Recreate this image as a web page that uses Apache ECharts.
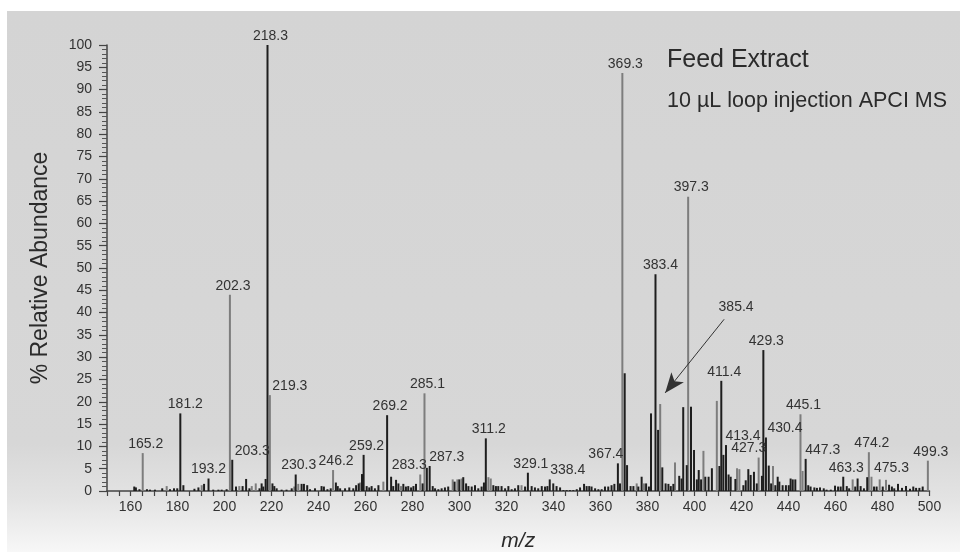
<!DOCTYPE html>
<html>
<head>
<meta charset="utf-8">
<script src="https://cdn.jsdelivr.net/npm/echarts@6/dist/echarts.min.js"></script>
<style>
html,body{margin:0;padding:0;background:#fff;}
#chart{width:960px;height:552px;}
</style>
</head>
<body>
<div id="chart"></div>
<script>
// ---- data (m/z, % relative abundance) ----
const xTickLabels = [160,180,200,220,240,260,280,300,320,340,360,380,400,420,440,460,480,500];

const darkMz = [161.6,162.3,163.8,167.0,168.3,170.4,173.5,176.8,178.5,179.9,181.2,182.5,187.2,188.9,191.3,193.2,195.2,197.4,198.8,200.9,
203.3,204.9,207.7,209.2,210.6,214.9,215.8,216.5,217.5,218.3,220.4,221.2,222.2,224.3,226.4,228.6,230.3,232.8,233.8,235.2,
236.4,238.5,241.3,242.3,243.8,245.2,247.4,248.2,249.2,251.3,253.1,254.8,256.0,257.1,258.5,259.2,260.5,261.6,262.6,264.0,
265.5,269.2,270.9,271.8,273.0,274.0,276.1,277.2,278.2,279.4,280.4,281.5,284.3,286.1,287.3,288.6,289.6,291.0,292.4,293.8,
295.2,297.9,299.9,301.6,302.8,303.8,305.2,306.6,308.0,309.4,310.4,311.2,314.4,315.5,316.5,317.9,319.4,320.8,322.2,323.6,
325.0,327.9,329.1,330.7,332.1,333.5,335.0,336.4,337.4,338.4,339.9,341.3,342.8,344.2,345.6,347.0,348.4,349.9,351.3,353.0,
354.1,355.2,356.2,357.7,359.1,360.5,361.9,363.3,364.7,365.9,367.4,368.3,370.3,371.3,372.8,374.0,376.1,377.5,379.4,380.6,
381.5,383.4,384.5,386.3,387.7,388.9,389.9,391.0,393.5,394.5,395.2,396.7,398.5,399.8,401.0,401.8,402.8,404.6,406.0,407.4,
410.6,411.4,412.3,413.4,414.5,415.4,417.4,420.8,421.8,422.9,423.9,425.3,426.5,428.7,429.3,430.4,431.6,432.6,434.4,435.4,
436.1,437.5,438.9,440.1,440.9,441.8,442.9,447.3,448.4,449.4,451.0,452.1,453.4,455.0,456.2,458.0,459.8,461.1,462.2,463.3,
464.8,465.8,468.4,469.4,470.7,472.1,473.5,476.4,477.5,480.1,482.8,484.0,485.0,486.6,488.3,490.0,491.7,493.1,494.3,495.7,497.1];
const darkAbund = [1.0,0.8,0.4,0.4,0.3,0.3,0.6,0.4,0.6,0.6,17.4,1.3,0.5,0.8,1.6,2.8,0.3,0.3,0.3,0.4,
7.0,1.0,1.1,2.7,0.6,0.6,1.7,1.0,2.7,100,1.7,1.1,0.6,0.3,0.3,0.6,3.7,1.6,1.6,1.3,
0.4,0.6,1.1,1.0,0.4,0.6,1.9,1.1,0.6,0.6,0.8,0.6,1.3,1.7,3.8,8.1,1.1,0.8,1.1,0.6,
1.3,17.0,3.2,1.1,2.5,1.7,1.6,1.0,1.1,0.8,1.1,1.6,1.7,5.2,5.6,1.1,0.6,0.4,0.6,0.8,
1.0,2.1,2.6,3.1,1.7,1.1,1.0,1.3,0.6,1.0,1.9,11.8,1.3,1.1,1.1,1.1,0.6,1.1,0.4,0.6,
1.3,1.0,4.1,1.1,0.8,0.6,1.1,1.0,1.1,2.6,1.7,1.1,0.8,0.2,0.2,0.2,0.2,0.4,0.8,1.6,
1.1,1.1,1.0,0.6,0.4,0.4,1.0,1.0,1.3,1.6,6.2,1.7,26.4,5.8,1.1,1.1,1.0,3.2,1.7,1.0,
17.4,48.6,13.7,5.3,1.7,1.6,1.1,1.6,3.4,2.8,18.8,5.8,18.9,9.2,2.6,4.7,2.6,3.2,3.2,5.1,
5.6,24.7,8.1,10.3,3.7,3.2,2.7,1.3,2.4,4.9,3.6,4.3,1.7,3.4,31.6,12.0,5.7,1.7,1.3,3.2,
2.1,1.3,1.3,1.3,2.8,2.6,2.6,7.2,1.3,1.0,0.8,0.7,0.8,0.6,0.3,0.3,1.2,1.0,1.0,3.2,
1.1,0.6,1.0,2.8,1.1,0.6,3.1,1.0,1.0,1.0,1.4,1.0,0.6,1.6,0.7,1.1,0.5,1.0,0.7,0.7,1.0];

const greyMz = [165.2,175.4,190.3,202.3,206.3,211.6,213.3,219.3,229.7,231.4,246.2,257.7,267.6,275.1,283.3,285.1,297.1,299.1,300.9,312.3,
313.3,326.4,369.3,375.4,378.5,385.4,391.7,397.3,403.8,409.5,418.1,419.1,427.3,433.4,445.1,446.0,467.3,474.2,475.3,478.8,481.5,499.3];
const greyAbund = [8.5,1.1,1.3,44.0,1.1,1.1,1.7,21.5,1.0,1.6,4.7,1.9,2.1,1.1,3.7,21.9,2.6,2.6,2.8,3.1,
2.8,1.3,93.7,1.7,1.7,19.5,6.4,66.0,9.0,20.2,5.1,4.9,7.5,5.6,17.2,4.5,2.6,8.7,3.2,2.6,2.5,6.8];

const labeledPeaks = [165.2,181.2,193.2,202.3,203.3,218.3,219.3,230.3,246.2,259.2,269.2,283.3,285.1,287.3,311.2,329.1,338.4,367.4,
369.3,383.4,397.3,411.4,413.4,427.3,429.3,430.4,445.1,447.3,463.3,474.2,475.3,499.3];

// annotated peak (arrow) : label text and arrow ends in data units
const arrowPeak = 385.4;
const arrowFrom = [412.6, 38.5];
const arrowTo = [387.5, 22.0];
const arrowLabelAt = [417.7, 41.3];

// ---- styling ----
const labelShift = {219.3:20, 203.3:20, 283.3:-11, 287.3:17, 338.4:18, 367.4:-12, 413.4:17, 427.3:-10,
  430.4:19, 447.3:17, 475.3:20, 193.2:0, 383.4:5, 181.2:5};
const FONT = '"Liberation Sans", Arial, Helvetica, sans-serif';
const TXT = '#333333';

function buildItems(mzs, vals) {
  return mzs.map((m, i) => {
    const item = { value: [m, vals[i]] };
    if (labeledPeaks.indexOf(m) >= 0) {
      const dx = (labelShift[m] !== undefined) ? labelShift[m] : 3;
      item.label = { show: true, formatter: m.toFixed(1), offset: [dx, 0] };
    }
    return item;
  });
}

const minorX = [];
for (let v = 150; v <= 500; v += 5) minorX.push(v);

const labelStyle = { position: 'top', distance: 2, color: TXT, fontSize: 14, fontFamily: FONT };

const chart = echarts.init(document.getElementById('chart'), null, { renderer: 'canvas' });
chart.setOption({
  animation: false,
  backgroundColor: '#ffffff',
  graphic: [{
    type: 'rect', z: -10, silent: true,
    shape: { x: 7, y: 11, width: 953, height: 541 },
    style: { fill: new echarts.graphic.LinearGradient(0, 0, 0, 1, [
      { offset: 0, color: '#d4d4d4' },
      { offset: 0.8, color: '#d7d7d7' },
      { offset: 0.9, color: '#e3e3e3' },
      { offset: 1, color: '#f7f7f7' }
    ]) }
  }],
  title: [
    { text: 'Feed Extract', left: 667, top: 48, padding: 0,
      textStyle: { fontSize: 25, fontWeight: 'normal', color: '#2b2b2b', fontFamily: FONT } },
    { text: '10 µL loop injection APCI MS', left: 667, top: 90, padding: 0,
      textStyle: { fontSize: 21.5, fontWeight: 'normal', color: '#2b2b2b', fontFamily: FONT } }
  ],
  grid: { left: 107, right: 30.5, top: 45, bottom: 61, containLabel: false, outerBoundsMode: 'none' },
  xAxis: {
    type: 'value', min: 150, max: 500,
    name: 'm/z', nameLocation: 'middle', nameGap: 40,
    nameTextStyle: { fontSize: 21, fontStyle: 'italic', color: '#2b2b2b', fontFamily: FONT },
    axisLine: { show: true, onZero: false, lineStyle: { color: '#444', width: 1.5 } },
    axisTick: { show: true, length: 5, customValues: minorX, lineStyle: { color: '#444', width: 1.2 } },
    axisLabel: { customValues: xTickLabels, margin: 9, color: TXT, fontSize: 14, fontFamily: FONT },
    splitLine: { show: false }
  },
  yAxis: {
    type: 'value', min: 0, max: 100, interval: 5,
    name: '% Relative Abundance', nameLocation: 'middle', nameGap: 55, nameRotate: 90,
    nameTextStyle: { fontSize: 23, color: '#2b2b2b', fontFamily: FONT },
    axisLine: { show: true, lineStyle: { color: '#444', width: 1.5 } },
    axisTick: { show: true, length: 8, lineStyle: { color: '#444', width: 1.2 } },
    minorTick: { show: true, splitNumber: 5, length: 5, lineStyle: { color: '#555', width: 1 } },
    axisLabel: { margin: 15, color: TXT, fontSize: 14, fontFamily: FONT },
    splitLine: { show: false }, minorSplitLine: { show: false }
  },
  series: [
    {
      name: 'grey', type: 'bar', barWidth: 2, barGap: '-100%',
      itemStyle: { color: '#7d7d7d' },
      label: labelStyle,
      data: buildItems(greyMz, greyAbund),
      markLine: {
        silent: true, symbol: ['none', 'arrow'], symbolSize: [12, 20],
        lineStyle: { color: '#333', width: 1, type: 'solid' },
        label: { show: false },
        data: [[{ coord: arrowFrom }, { coord: arrowTo }]]
      },
      markPoint: {
        silent: true, symbol: 'circle', symbolSize: 0,
        label: { show: true, position: 'inside', color: TXT, fontSize: 14, fontFamily: FONT, formatter: arrowPeak.toFixed(1) },
        data: [{ coord: arrowLabelAt }]
      }
    },
    {
      name: 'dark', type: 'bar', barWidth: 2, barGap: '-100%',
      itemStyle: { color: '#1e1e1e' },
      label: labelStyle,
      data: buildItems(darkMz, darkAbund)
    }
  ]
});
</script>
</body>
</html>
